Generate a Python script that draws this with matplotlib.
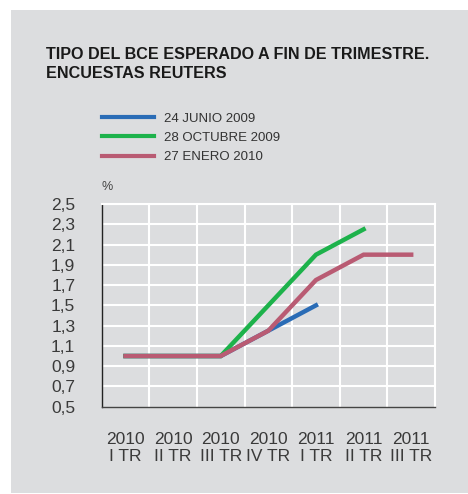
import matplotlib
matplotlib.use("Agg")
import matplotlib.pyplot as plt
from matplotlib.patches import Rectangle
from matplotlib.lines import Line2D
import numpy as np

categories = ["2010\nI TR", "2010\nII TR", "2010\nIII TR", "2010\nIV TR",
              "2011\nI TR", "2011\nII TR", "2011\nIII TR"]
series_names = ["24 JUNIO 2009", "28 OCTUBRE 2009", "27 ENERO 2010"]
junio_2009 = [1.0, 1.0, 1.0, 1.25, 1.5]
octubre_2009 = [1.0, 1.0, 1.0, 1.5, 2.0, 2.25]
enero_2010 = [1.0, 1.0, 1.0, 1.25, 1.75, 2.0, 2.0]
yticks = [0.5, 0.7, 0.9, 1.1, 1.3, 1.5, 1.7, 1.9, 2.1, 2.3, 2.5]
ytick_labels = ["0,5", "0,7", "0,9", "1,1", "1,3", "1,5", "1,7", "1,9", "2,1", "2,3", "2,5"]
colors = ["#2a6cb6", "#1db24b", "#b95b73"]

plt.rcParams['font.family'] = ['Liberation Sans', 'DejaVu Sans']

W, H = 468, 494
fig = plt.figure(figsize=(W/100, H/100), dpi=100)
fig.patch.set_facecolor("white")
bg = "#dcdddf"
fig.patches.append(Rectangle((11/W, 1/H), 1 - 11/W, (H - 11)/H,
                             transform=fig.transFigure, facecolor=bg,
                             edgecolor="none", zorder=-10))

ax = fig.add_axes([101.7/W, 1 - 406.7/H, (435 - 101.7)/W, (406.7 - 204)/H])
ax.set_facecolor(bg)

x_all = np.arange(len(categories))
series = [junio_2009, octubre_2009, enero_2010]
for vals, c in zip(series, colors):
    ax.plot(x_all[:len(vals)], vals, color=c, lw=3.2, solid_capstyle="projecting",
            solid_joinstyle="miter", zorder=3)

ax.set_xlim(-0.5, len(categories) - 0.5)
ax.set_ylim(0.5, 2.5)
ax.set_yticks(yticks)
ax.set_yticklabels(ytick_labels)
ax.set_xticks(x_all)
ax.set_xticklabels(categories, linespacing=1.15)
for b in np.arange(0.5, len(categories) - 0.5, 1):
    ax.axvline(b, color="white", lw=1.5, zorder=1)
for yv in yticks[1:]:
    ax.axhline(yv, color="white", lw=1.5, zorder=1)

ax.tick_params(axis="both", length=0, colors="#3a3a3a", labelsize=12.5)
ax.tick_params(axis="x", pad=18)
ax.tick_params(axis="y", pad=19)
ax.spines["left"].set_color("#222222")
ax.spines["left"].set_linewidth(1.0)
ax.spines["bottom"].set_color("#444444")
ax.spines["bottom"].set_linewidth(1.0)
ax.spines["top"].set_color("white")
ax.spines["top"].set_linewidth(1.5)
ax.spines["right"].set_color("white")
ax.spines["right"].set_linewidth(1.5)

fig.text(46/W, 1 - 64/H, "TIPO DEL BCE ESPERADO A FIN DE TRIMESTRE.\nENCUESTAS REUTERS",
         fontsize=11.6, fontweight="bold", color="#1a1a1a", va="center", ha="left",
         linespacing=1.28)

handles = [Line2D([0], [0], color=c, lw=3.0) for c in colors]
leg = fig.legend(handles, series_names, loc="upper left",
                 bbox_to_anchor=(97/W, 1 - 107/H), frameon=False,
                 fontsize=9.5, handlelength=3.9, handletextpad=0.8,
                 labelspacing=0.54, borderaxespad=0)
for t in leg.get_texts():
    t.set_color("#333333")

fig.text(102/W, 1 - 187/H, "%", fontsize=9, color="#444444", va="center", ha="left")

fig.savefig("out.png", dpi=100, facecolor="white")
